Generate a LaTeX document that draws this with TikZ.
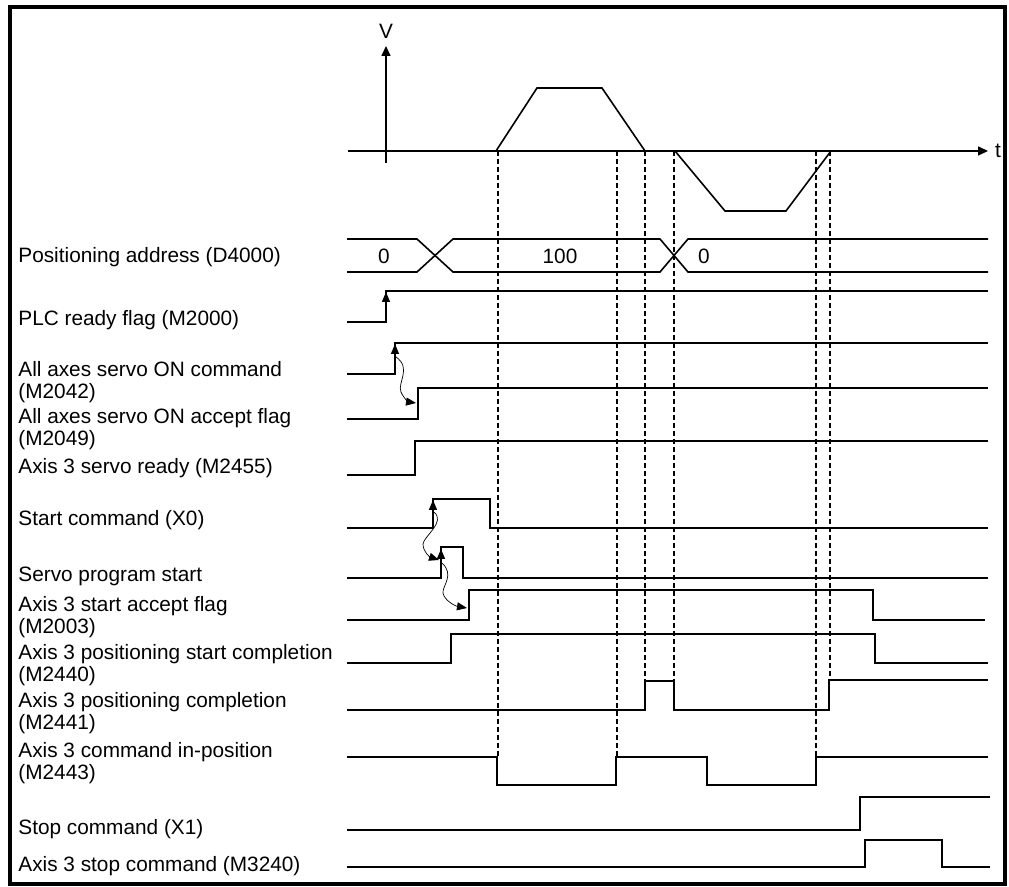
\documentclass[tikz,border=0pt]{standalone}
\usepackage{fontspec}
\setmainfont{Liberation Sans}
\usetikzlibrary{arrows.meta}
\tikzset{
  outerbox/.style={line width=2.1pt},
  sig/.style={line width=0.8pt, line join=miter},
  guide/.style={line width=0.55pt, dash pattern=on 2.5pt off 1.5pt},
  vaxis/.style={line width=0.8pt, -{Triangle[length=5pt,width=4.5pt]}},
  edgetip/.style={line width=0.8pt, -{Triangle[length=5pt,width=4pt]}},
  cause/.style={line width=0.35pt, -{Triangle[length=5pt,width=4pt]}},
  lbl/.style={anchor=west, inner sep=0pt, align=left,
              font=\fontsize{10.4}{11.3}\selectfont},
  val/.style={inner sep=0pt, font=\fontsize{10.4}{11.3}\selectfont}}
\begin{document}
\begin{tikzpicture}[x=0.5pt, y=-0.5pt]
  \useasboundingbox (0,0) rectangle (1009,887);
  \draw[outerbox] (10,7) rectangle (1005,884);
  % speed profile
  \draw[vaxis] (386,163) -- (386,46);
  \node[val] (vlbl) at (386,31) {V};
  \draw[vaxis] (348,151) -- (988,151);
  \node[val] (tlbl) at (998,151) {t};
  \draw[sig] (496,151) -- (537,88) -- (602,88) -- (645,151);
  \draw[sig] (675,151) -- (725,211) -- (786,211) -- (831,151);
  % guide lines
  \draw[guide] (498,151) -- (498,757);
  \draw[guide] (617,151) -- (617,757);
  \draw[guide] (645,151) -- (645,681);
  \draw[guide] (674,151) -- (674,681);
  \draw[guide] (816,151) -- (816,757);
  \draw[guide] (830,151) -- (830,680);
  % signal names
  \node[lbl] (adr) at (18,257) {Positioning address (D4000)};
  \node[lbl] (plc) at (18,320) {PLC ready flag (M2000)};
  \node[lbl] (svon) at (18,382) {All axes servo ON command\\(M2042)};
  \node[lbl] (svacc) at (18,429) {All axes servo ON accept flag\\(M2049)};
  \node[lbl] (svrdy) at (18,468) {Axis 3 servo ready (M2455)};
  \node[lbl] (strt) at (18,520) {Start command (X0)};
  \node[lbl] (prog) at (18,576) {Servo program start};
  \node[lbl] (stacc) at (18,617) {Axis 3 start accept flag\\(M2003)};
  \node[lbl] (pscmp) at (18,665) {Axis 3 positioning start completion\\(M2440)};
  \node[lbl] (pcmp) at (18,713) {Axis 3 positioning completion\\(M2441)};
  \node[lbl] (inpos) at (18,763) {Axis 3 command in-position\\(M2443)};
  \node[lbl] (stp) at (18,829) {Stop command (X1)};
  \node[lbl] (axstp) at (18,866) {Axis 3 stop command (M3240)};
  % positioning address bus
  \draw[sig] (347,239) -- (417,239) -- (453,272) -- (660,272) -- (688,239) -- (988,239);
  \draw[sig] (347,272) -- (417,272) -- (453,239) -- (660,239) -- (688,272) -- (988,272);
  \node[val] (adr0) at (384,256) {0};
  \node[val] (adr100) at (560,256) {100};
  \node[val] (adr1) at (704,256) {0};
  % waveforms
  \draw[sig] (347,322) -- (386,322) -- (386,291) -- (988,291);
  \draw[edgetip] (386,310) -- (386,292);
  \draw[sig] (347,374) -- (395,374) -- (395,343) -- (988,343);
  \draw[edgetip] (395,362) -- (395,344);
  \draw[sig] (347,419) -- (418,419) -- (418,388) -- (988,388);
  \draw[sig] (347,475) -- (415,475) -- (415,441) -- (988,441);
  \draw[sig] (347,528) -- (433,528) -- (433,499) -- (490,499) -- (490,528) -- (988,528);
  \draw[edgetip] (433,517) -- (433,500);
  \draw[sig] (347,578) -- (441,578) -- (441,547) -- (463,547) -- (463,578) -- (988,578);
  \draw[edgetip] (441,566) -- (441,549);
  \draw[sig] (347,620) -- (469,620) -- (469,590) -- (873,590) -- (873,620) -- (985,620);
  \draw[sig] (347,663) -- (451,663) -- (451,634) -- (875,634) -- (875,663) -- (988,663);
  \draw[sig] (347,710) -- (645,710) -- (645,681) -- (674,681) -- (674,710) -- (829,710)
    -- (829,680) -- (988,680);
  \draw[sig] (347,757) -- (497,757) -- (497,785) -- (616,785) -- (616,757) -- (707,757)
    -- (707,785) -- (816,785) -- (816,757) -- (988,757);
  \draw[sig] (347,830) -- (860,830) -- (860,797) -- (990,797);
  \draw[sig] (347,867) -- (865,867) -- (865,840) -- (942,840) -- (942,867) -- (990,867);
  % cause and effect
  \draw[cause] (396,357) .. controls (412,368) and (397,383) .. (401,392)
    .. controls (404,399) and (409,402) .. (416,403);
  \draw[cause] (434,512) .. controls (446,522) and (424,536) .. (423,544)
    .. controls (423,552) and (430,557) .. (439,560);
  \draw[cause] (442,563) .. controls (455,575) and (442,586) .. (443,593)
    .. controls (444,600) and (455,606) .. (467,608);
\end{tikzpicture}
\end{document}
